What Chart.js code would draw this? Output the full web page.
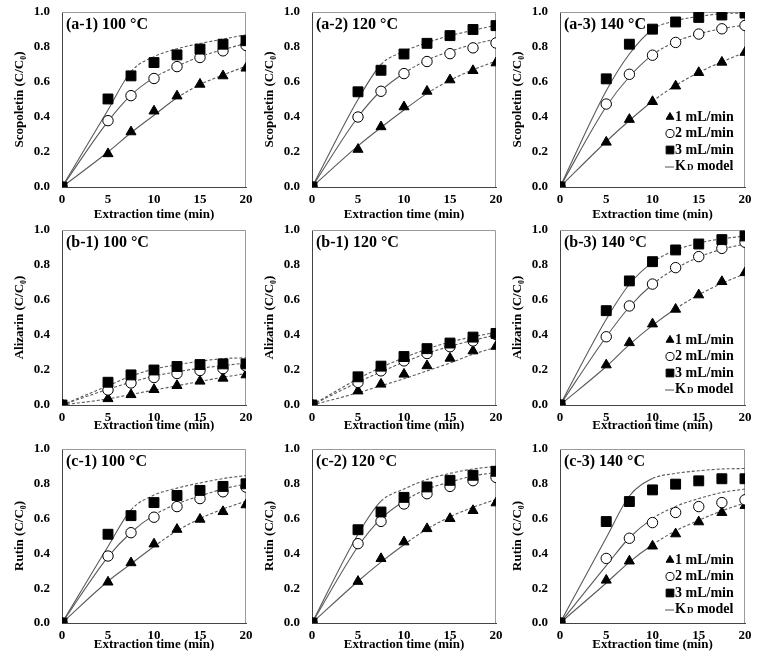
<!DOCTYPE html>
<html>
<head>
<meta charset="utf-8">
<script src="https://cdn.jsdelivr.net/npm/chart.js@4.4.1/dist/chart.umd.min.js"></script>
<style>
  html, body { margin: 0; padding: 0; background: #fff; }
  #wrap { position: relative; width: 758px; height: 664px; }
  #wrap canvas { position: absolute; }
</style>
</head>
<body>
<div id="wrap"></div>
<script>
// sampling times (min), same for measured points and model curves
const times = [0, 5, 7.5, 10, 12.5, 15, 17.5, 20];
const xTickValues = [0, 5, 10, 15, 20];
const yTickValues = [0, 0.2, 0.4, 0.6, 0.8, 1.0];
const flowLabels = ['1 mL/min', '2 mL/min', '3 mL/min'];

// (a) scopoletin
const a1_1 = [0, 0.19, 0.315, 0.434, 0.52, 0.587, 0.635, 0.679];
const a1_2 = [0, 0.379, 0.522, 0.62, 0.688, 0.74, 0.778, 0.809];
const a1_3 = [0, 0.503, 0.635, 0.711, 0.755, 0.788, 0.816, 0.836];
const a1_m1 = [0, 0.20, 0.31, 0.41, 0.51, 0.585, 0.64, 0.69];
const a1_m2 = [0, 0.375, 0.525, 0.625, 0.69, 0.745, 0.785, 0.82];
const a1_m3 = [0, 0.44, 0.66, 0.745, 0.79, 0.82, 0.845, 0.87];

const a2_1 = [0, 0.215, 0.344, 0.458, 0.547, 0.612, 0.665, 0.709];
const a2_2 = [0, 0.40, 0.547, 0.648, 0.717, 0.762, 0.795, 0.823];
const a2_3 = [0, 0.544, 0.667, 0.76, 0.821, 0.865, 0.90, 0.922];
const a2_m1 = [0, 0.235, 0.34, 0.44, 0.535, 0.61, 0.67, 0.72];
const a2_m2 = [0, 0.40, 0.55, 0.65, 0.725, 0.775, 0.815, 0.845];
const a2_m3 = [0, 0.50, 0.70, 0.775, 0.825, 0.865, 0.895, 0.925];

const a3_1 = [0, 0.256, 0.386, 0.488, 0.577, 0.654, 0.713, 0.769];
const a3_2 = [0, 0.474, 0.644, 0.753, 0.826, 0.874, 0.904, 0.923];
const a3_3 = [0, 0.618, 0.816, 0.902, 0.943, 0.969, 0.983, 0.994];
const a3_m1 = [0, 0.26, 0.38, 0.49, 0.58, 0.655, 0.715, 0.77];
const a3_m2 = [0, 0.46, 0.63, 0.755, 0.83, 0.875, 0.905, 0.925];
const a3_m3 = [0, 0.55, 0.76, 0.90, 0.95, 0.975, 0.99, 0.995];

// (b) alizarin
const b1_1 = [0, 0.036, 0.059, 0.088, 0.111, 0.136, 0.153, 0.172];
const b1_2 = [0, 0.086, 0.126, 0.157, 0.18, 0.197, 0.208, 0.222];
const b1_3 = [0, 0.13, 0.172, 0.20, 0.22, 0.231, 0.235, 0.235];
const b1_m1 = [0, 0.035, 0.06, 0.085, 0.11, 0.135, 0.158, 0.18];
const b1_m2 = [0, 0.09, 0.13, 0.165, 0.19, 0.21, 0.225, 0.24];
const b1_m3 = [0, 0.11, 0.165, 0.205, 0.23, 0.25, 0.265, 0.27];

const b2_1 = [0, 0.08, 0.119, 0.176, 0.224, 0.267, 0.309, 0.335];
const b2_2 = [0, 0.129, 0.195, 0.252, 0.294, 0.333, 0.366, 0.403];
const b2_3 = [0, 0.161, 0.222, 0.277, 0.322, 0.354, 0.388, 0.409];
const b2_m1 = [0, 0.07, 0.11, 0.15, 0.195, 0.24, 0.29, 0.33];
const b2_m2 = [0, 0.13, 0.19, 0.245, 0.295, 0.335, 0.37, 0.40];
const b2_m3 = [0, 0.15, 0.215, 0.27, 0.32, 0.36, 0.39, 0.415];

const b3_1 = [0, 0.229, 0.356, 0.463, 0.547, 0.629, 0.705, 0.756];
const b3_2 = [0, 0.39, 0.566, 0.691, 0.785, 0.848, 0.895, 0.93];
const b3_3 = [0, 0.539, 0.709, 0.819, 0.886, 0.92, 0.945, 0.966];
const b3_m1 = [0, 0.22, 0.345, 0.455, 0.55, 0.63, 0.695, 0.75];
const b3_m2 = [0, 0.39, 0.56, 0.69, 0.78, 0.845, 0.89, 0.92];
const b3_m3 = [0, 0.49, 0.69, 0.815, 0.885, 0.925, 0.95, 0.965];

// (c) rutin
const c1_1 = [0, 0.235, 0.346, 0.454, 0.538, 0.596, 0.64, 0.679];
const c1_2 = [0, 0.385, 0.519, 0.608, 0.669, 0.715, 0.754, 0.781];
const c1_3 = [0, 0.51, 0.617, 0.692, 0.733, 0.762, 0.785, 0.80];
const c1_m1 = [0, 0.24, 0.34, 0.44, 0.53, 0.60, 0.655, 0.70];
const c1_m2 = [0, 0.38, 0.52, 0.62, 0.685, 0.73, 0.77, 0.80];
const c1_m3 = [0, 0.44, 0.65, 0.735, 0.775, 0.805, 0.83, 0.848];

const c2_1 = [0, 0.239, 0.37, 0.466, 0.542, 0.60, 0.646, 0.69];
const c2_2 = [0, 0.456, 0.584, 0.684, 0.743, 0.785, 0.818, 0.837];
const c2_3 = [0, 0.536, 0.638, 0.722, 0.782, 0.82, 0.849, 0.872];
const c2_m1 = [0, 0.24, 0.35, 0.45, 0.54, 0.61, 0.665, 0.71];
const c2_m2 = [0, 0.44, 0.60, 0.70, 0.77, 0.81, 0.845, 0.865];
const c2_m3 = [0, 0.51, 0.70, 0.77, 0.825, 0.86, 0.885, 0.90];

const c3_1 = [0, 0.246, 0.356, 0.442, 0.512, 0.581, 0.635, 0.675];
const c3_2 = [0, 0.371, 0.487, 0.577, 0.635, 0.669, 0.692, 0.708];
const c3_3 = [0, 0.583, 0.698, 0.765, 0.798, 0.817, 0.829, 0.829];
const c3_m1 = [0, 0.23, 0.35, 0.45, 0.53, 0.59, 0.645, 0.69];
const c3_m2 = [0, 0.33, 0.49, 0.60, 0.67, 0.715, 0.75, 0.77];
const c3_m3 = [0, 0.49, 0.73, 0.83, 0.86, 0.875, 0.885, 0.888];

const panels = [
  { label: '(a-1) 100 °C', yTitle: 'Scopoletin', row: 0, col: 0, pts: [a1_1, a1_2, a1_3], fit: [a1_m1, a1_m2, a1_m3] },
  { label: '(a-2) 120 °C', yTitle: 'Scopoletin', row: 0, col: 1, pts: [a2_1, a2_2, a2_3], fit: [a2_m1, a2_m2, a2_m3] },
  { label: '(a-3) 140 °C', yTitle: 'Scopoletin', row: 0, col: 2, pts: [a3_1, a3_2, a3_3], fit: [a3_m1, a3_m2, a3_m3], legendTop: 105 },
  { label: '(b-1) 100 °C', yTitle: 'Alizarin', row: 1, col: 0, pts: [b1_1, b1_2, b1_3], fit: [b1_m1, b1_m2, b1_m3] },
  { label: '(b-1) 120 °C', yTitle: 'Alizarin', row: 1, col: 1, pts: [b2_1, b2_2, b2_3], fit: [b2_m1, b2_m2, b2_m3] },
  { label: '(b-3) 140 °C', yTitle: 'Alizarin', row: 1, col: 2, pts: [b3_1, b3_2, b3_3], fit: [b3_m1, b3_m2, b3_m3], legendTop: 110 },
  { label: '(c-1) 100 °C', yTitle: 'Rutin', row: 2, col: 0, pts: [c1_1, c1_2, c1_3], fit: [c1_m1, c1_m2, c1_m3] },
  { label: '(c-2) 120 °C', yTitle: 'Rutin', row: 2, col: 1, pts: [c2_1, c2_2, c2_3], fit: [c2_m1, c2_m2, c2_m3] },
  { label: '(c-3) 140 °C', yTitle: 'Rutin', row: 2, col: 2, pts: [c3_1, c3_2, c3_3], fit: [c3_m1, c3_m2, c3_m3], legendTop: 111 }
];

// layout of the grid (plot areas in page pixels)
const rowTop = [12, 230, 449];
const rowH = [175, 175, 174];
const rowAxisH = [37, 30, 31];
const colLeft = [62, 312, 560];
const colW = [184, 184, 185];
const Y_AXIS_W = 62;
const TOP_M = 12;
const RIGHT_M = 8;

const FONT = "'Liberation Serif', 'Times New Roman', serif";
const markerStyles = [
  { pointStyle: 'triangle', radius: 5.8, bg: '#000' },
  { pointStyle: 'circle', radius: 5.2, bg: '#fff' },
  { pointStyle: 'rect', radius: 7, bg: '#000' }
];

const framePlugin = {
  id: 'frame',
  beforeDatasetsDraw(chart) {
    const { ctx, chartArea: a } = chart;
    ctx.save();
    ctx.strokeStyle = '#9a9a9a';
    ctx.lineWidth = 1;
    ctx.beginPath();
    ctx.moveTo(a.left, a.top + 0.5);
    ctx.lineTo(a.right - 0.5, a.top + 0.5);
    ctx.lineTo(a.right - 0.5, a.bottom);
    ctx.stroke();
    ctx.restore();
  }
};

const labelPlugin = {
  id: 'panelLabel',
  afterDraw(chart, args, opts) {
    const { ctx, chartArea: a } = chart;
    ctx.save();
    ctx.font = `bold 16px ${FONT}`;
    ctx.fillStyle = '#000';
    ctx.textBaseline = 'middle';
    ctx.fillText(opts.text, a.left + 4, a.top + 13);
    ctx.restore();
  }
};

const legendPlugin = {
  id: 'kdLegend',
  afterDraw(chart, args, opts) {
    if (opts.top == null) return;
    const { ctx, chartArea: a } = chart;
    const mx = a.left + 110;
    const tx = mx + 5;
    const gap = 16.5;
    ctx.save();
    ctx.textBaseline = 'middle';
    markerStyles.forEach((m, i) => {
      const y = a.top + opts.top + i * gap;
      ctx.fillStyle = m.bg;
      ctx.strokeStyle = '#000';
      ctx.lineWidth = 1;
      Chart.helpers.drawPoint(ctx, { pointStyle: m.pointStyle, radius: m.radius * 0.78, borderWidth: 1 }, mx, y);
      ctx.fillStyle = '#000';
      ctx.font = `bold 14px ${FONT}`;
      ctx.fillText(flowLabels[i], tx, y);
    });
    const y = a.top + opts.top + 3 * gap;
    ctx.strokeStyle = '#555';
    ctx.lineWidth = 1;
    ctx.beginPath();
    ctx.moveTo(mx - 5, y + 0.5);
    ctx.lineTo(mx + 4, y + 0.5);
    ctx.stroke();
    ctx.fillStyle = '#000';
    ctx.font = `bold 14px ${FONT}`;
    ctx.fillText('K', tx, y);
    let w = ctx.measureText('K').width;
    ctx.font = `bold 9px ${FONT}`;
    ctx.fillText('D', tx + w + 1, y + 1);
    w += ctx.measureText('D').width + 1;
    ctx.font = `bold 14px ${FONT}`;
    ctx.fillText(' model', tx + w, y);
    ctx.restore();
  }
};

// thin model curves look dashed where they run flat
function flatDash(c) {
  const dx = Math.abs(c.p1.x - c.p0.x);
  const dy = Math.abs(c.p1.y - c.p0.y);
  return dy < 0.7 * dx ? [3, 2] : undefined;
}

function makeChart(p) {
  const wrap = document.getElementById('wrap');
  const canvas = document.createElement('canvas');
  const w = Y_AXIS_W + colW[p.col] + RIGHT_M;
  const h = TOP_M + rowH[p.row] + rowAxisH[p.row];
  canvas.width = w;
  canvas.height = h;
  canvas.style.left = (colLeft[p.col] - Y_AXIS_W) + 'px';
  canvas.style.top = (rowTop[p.row] - TOP_M) + 'px';
  canvas.style.width = w + 'px';
  canvas.style.height = h + 'px';
  wrap.appendChild(canvas);

  const datasets = [];
  p.pts.forEach((vals, i) => {
    const m = markerStyles[i];
    datasets.push({
      label: flowLabels[i],
      data: times.map((t, k) => ({ x: t, y: vals[k] })),
      showLine: false,
      pointStyle: m.pointStyle,
      pointRadius: m.radius,
      pointBackgroundColor: m.bg,
      pointBorderColor: '#000',
      pointBorderWidth: 1,
      order: 1 + (2 - i) * 0.1
    });
  });
  p.fit.forEach(vals => {
    datasets.push({
      label: 'KD model',
      data: times.map((t, k) => ({ x: t, y: vals[k] })),
      borderColor: '#5a5a5a',
      borderWidth: 1.1,
      pointRadius: 0,
      fill: false,
      cubicInterpolationMode: 'monotone',
      segment: { borderDash: flatDash },
      order: 5
    });
  });

  new Chart(canvas, {
    type: 'line',
    data: { datasets },
    options: {
      responsive: false,
      animation: false,
      events: [],
      layout: { padding: { top: TOP_M, right: RIGHT_M, left: 0, bottom: 0 } },
      plugins: {
        legend: { display: false },
        tooltip: { enabled: false },
        panelLabel: { text: p.label },
        kdLegend: { top: p.legendTop }
      },
      scales: {
        x: {
          type: 'linear',
          min: 0, max: 20,
          afterBuildTicks: s => { s.ticks = xTickValues.map(v => ({ value: v })); },
          // fixed axis box, and no label overflow added to the layout padding
          afterFit: s => { s.height = rowAxisH[p.row]; s.paddingLeft = 0; s.paddingRight = 0; },
          grid: { display: false, drawTicks: false },
          border: { display: true, color: '#444', width: 1 },
          ticks: { autoSkip: false, padding: 5, color: '#000', font: { family: FONT, size: 13, weight: 'bold' }, maxRotation: 0, minRotation: 0 },
          title: { display: true, text: 'Extraction time (min)', color: '#000', padding: { top: 0, bottom: 2 }, font: { family: FONT, size: 13, weight: 'bold' } }
        },
        y: {
          min: 0, max: 1,
          afterBuildTicks: s => { s.ticks = yTickValues.map(v => ({ value: v })); },
          afterFit: s => { s.width = Y_AXIS_W; s.paddingTop = 0; s.paddingBottom = 0; },
          grid: { display: false, drawTicks: false },
          border: { display: true, color: '#444', width: 1 },
          ticks: { autoSkip: false, padding: 12, color: '#000', callback: v => v.toFixed(1), font: { family: FONT, size: 13, weight: 'bold' } },
          title: { display: true, text: p.yTitle + ' (C/C\u2080)', color: '#000', padding: { top: 12, bottom: 0 }, font: { family: FONT, size: 13, weight: 'bold' } }
        }
      }
    },
    plugins: [framePlugin, labelPlugin, legendPlugin]
  });
}

panels.forEach(makeChart);
</script>
</body>
</html>
